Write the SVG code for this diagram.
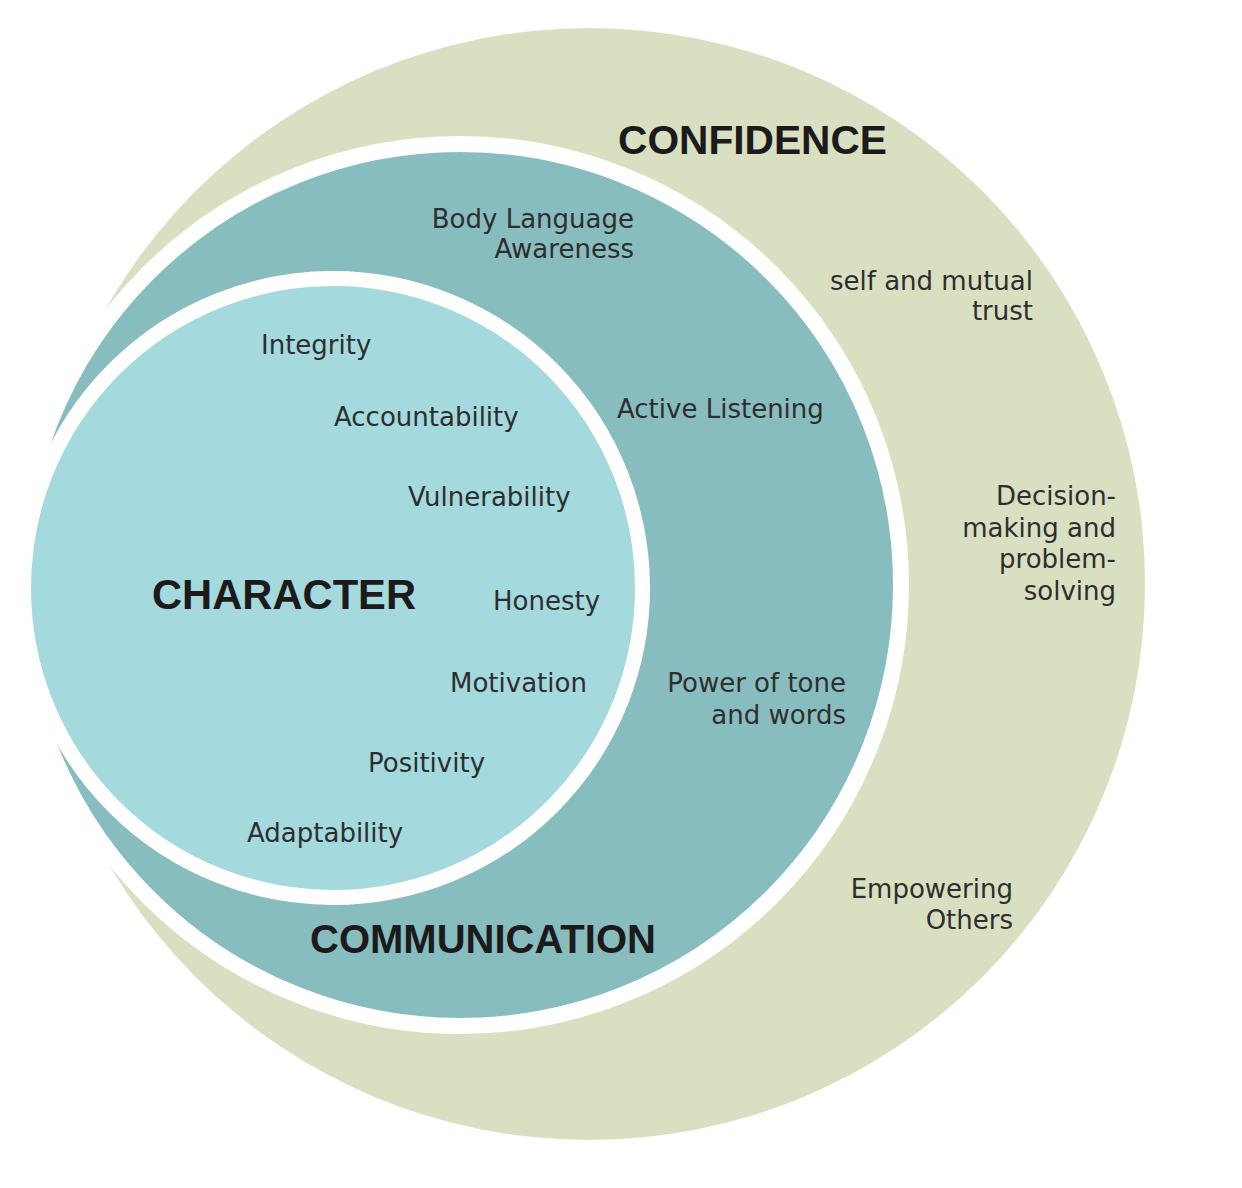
<svg xmlns="http://www.w3.org/2000/svg" width="1242" height="1188" viewBox="0 0 1242 1188">
<style>
.title{font-family:"Liberation Sans",Arial,sans-serif;font-weight:bold;fill:#1c1a1b}
.item{font-family:"DejaVu Sans","Liberation Sans",sans-serif;font-size:26px;fill:#2e2e2e}
.r{text-anchor:end}
</style>
<rect width="1242" height="1188" fill="#ffffff"/>
<g id="confidence">
<circle cx="589" cy="584" r="556" fill="#d8e0c1"/>
<text class="title" x="618" y="154" font-size="40.7">CONFIDENCE</text>
<text class="item r" x="1033" y="290">self and mutual</text>
<text class="item r" x="1033" y="320">trust</text>
<text class="item r" x="1116" y="505">Decision-</text>
<text class="item r" x="1116" y="537">making and</text>
<text class="item r" x="1116" y="568">problem-</text>
<text class="item r" x="1116" y="600">solving</text>
<text class="item r" x="1013" y="898">Empowering</text>
<text class="item r" x="1013" y="929">Others</text>
</g>
<g id="communication">
<circle cx="460" cy="585" r="441" fill="#88bdc0" stroke="#ffffff" stroke-width="16"/>
<text class="title" x="310" y="953" font-size="40">COMMUNICATION</text>
<text class="item r" x="634" y="228">Body Language</text>
<text class="item r" x="634" y="258">Awareness</text>
<text class="item" x="617" y="418">Active Listening</text>
<text class="item r" x="846" y="692">Power of tone</text>
<text class="item r" x="846" y="724">and words</text>
</g>
<g id="character">
<circle cx="333" cy="588" r="309.5" fill="#a4d9dd" stroke="#ffffff" stroke-width="15"/>
<text class="title" x="152" y="609" font-size="41.7">CHARACTER</text>
<text class="item" x="261" y="354">Integrity</text>
<text class="item" x="334" y="426">Accountability</text>
<text class="item" x="408" y="506">Vulnerability</text>
<text class="item" x="493" y="610">Honesty</text>
<text class="item" x="450" y="692">Motivation</text>
<text class="item" x="368" y="772">Positivity</text>
<text class="item" x="247" y="842">Adaptability</text>
</g>
<g id="connectors"/>
</svg>
